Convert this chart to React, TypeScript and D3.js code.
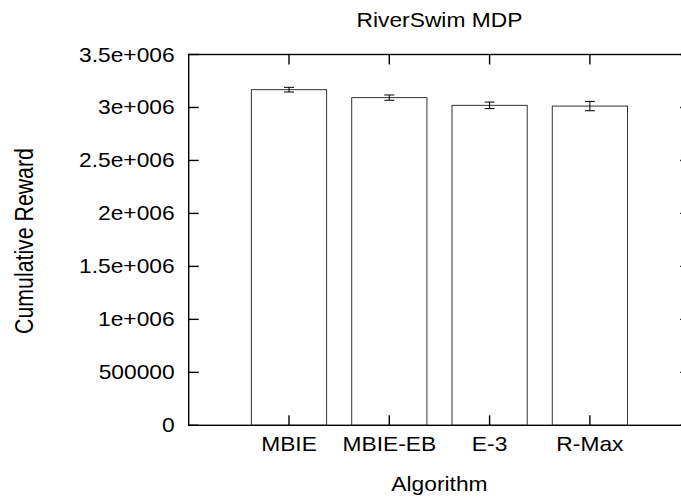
import React from 'react';
import * as d3 from 'd3';

const algorithms = ['MBIE', 'MBIE-EB', 'E-3', 'R-Max'];
const rewards = [3168000, 3093000, 3020000, 3013000];
const errors = [22000, 25000, 31000, 44000];
const yTicks = [0, 500000, 1000000, 1500000, 2000000, 2500000, 3000000, 3500000];
const yTickLabels = ['0', '500000', '1e+006', '1.5e+006', '2e+006', '2.5e+006', '3e+006', '3.5e+006'];

const W = 681;
const H = 498;
const font = "'Liberation Sans', Arial, Helvetica, sans-serif";
const sx = 1.14; // text looks a bit stretched sideways in the original

const App = () => {
    const left = 188.7, right = 690.2, top = 54.5, bottom = 425.3;

    const x = d3.scaleLinear().domain([0, algorithms.length + 1]).range([left, right]);
    const y = d3.scaleLinear().domain([0, 3500000]).range([bottom, top]);
    const barW = x(0.75) - x(0);
    const tickLen = 10;

    const label = (tx: number, ty: number, text: string, anchor: string, rot = 0, size = 20, scale = sx) => (
        <text
            key={text + tx + ty}
            transform={`translate(${tx},${ty}) scale(${scale},1)${rot ? ` rotate(${rot})` : ''}`}
            textAnchor={anchor}
            fontFamily={font}
            fontSize={size}
            fill="#000"
        >
            {text}
        </text>
    );

    return (
        <svg width={W} height={H} style={{ position: 'absolute', left: 0, top: 0, background: '#fff' }}>
            {/* bars */}
            {algorithms.map((a, i) => (
                <rect
                    key={a}
                    x={x(i + 1) - barW / 2}
                    y={y(rewards[i])}
                    width={barW}
                    height={bottom - y(rewards[i])}
                    fill="#fff"
                    stroke="#333"
                    strokeWidth={1}
                />
            ))}

            {/* error bars */}
            {algorithms.map((a, i) => {
                const cx = x(i + 1);
                const y0 = y(rewards[i] - errors[i]);
                const y1 = y(rewards[i] + errors[i]);
                return (
                    <g key={'err' + a} stroke="#000" strokeWidth={1}>
                        <line x1={cx} x2={cx} y1={y0} y2={y1} />
                        <line x1={cx - 5} x2={cx + 5} y1={y0} y2={y0} />
                        <line x1={cx - 5} x2={cx + 5} y1={y1} y2={y1} />
                    </g>
                );
            })}

            {/* frame */}
            <rect x={left} y={top} width={right - left} height={bottom - top} fill="none" stroke="#000" strokeWidth={1.4} />

            {/* y ticks, both sides */}
            {yTicks.map(t => (
                <g key={'yt' + t} stroke="#000" strokeWidth={1.4}>
                    <line x1={left} x2={left + tickLen} y1={y(t)} y2={y(t)} />
                    <line x1={right} x2={right - tickLen} y1={y(t)} y2={y(t)} />
                </g>
            ))}

            {/* x ticks, top and bottom */}
            {algorithms.map((a, i) => (
                <g key={'xt' + a} stroke="#000" strokeWidth={1.4}>
                    <line x1={x(i + 1)} x2={x(i + 1)} y1={bottom} y2={bottom - tickLen} />
                    <line x1={x(i + 1)} x2={x(i + 1)} y1={top} y2={top + tickLen} />
                </g>
            ))}

            {/* tick labels */}
            {yTicks.map((t, i) => label(left - 14, y(t) + 7, yTickLabels[i], 'end'))}
            {algorithms.map((a, i) => label(x(i + 1), 451, a, 'middle'))}

            {/* titles */}
            {label((left + right) / 2, 27, 'RiverSwim MDP', 'middle')}
            {label((left + right) / 2, 491, 'Algorithm', 'middle')}
            {label(33, 241, 'Cumulative Reward', 'middle', -90, 21.3, 1.2)}
        </svg>
    );
};

export default App;
